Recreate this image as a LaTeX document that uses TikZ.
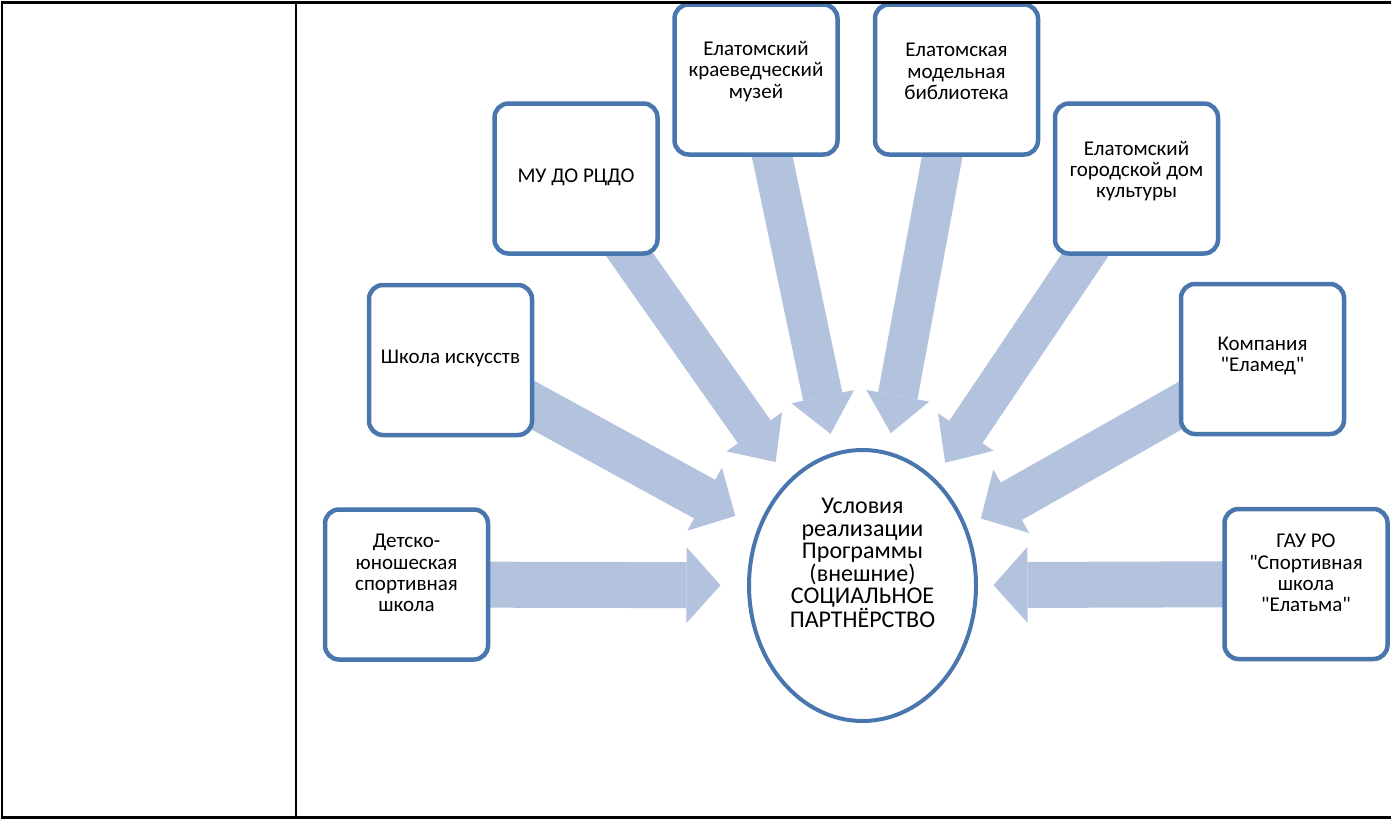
\documentclass[tikz,border=0pt]{standalone}
\usepackage{fontspec}
\setmainfont{Carlito}[Ligatures=TeXOff]
\usetikzlibrary{shapes.geometric,calc,arrows.meta,backgrounds}
\definecolor{boxblue}{RGB}{74,118,174}
\definecolor{arrowblue}{RGB}{179,194,221}
\tikzset{
  partner/.style={draw=boxblue,line width=4.5pt,fill=white,rounded corners=14pt,
    minimum width=163pt,minimum height=150pt,inner sep=0pt},
  lbl/.style={align=center,inner sep=0pt,font=\fontsize{21}{21.3}\selectfont},
  flow/.style n args={3}{arrowblue,line width=#1,
    -{Triangle[length=#3,width=#2,line width=0pt]}}
}
\begin{document}
\begin{tikzpicture}[x=1pt,y=-1pt]
\useasboundingbox (0,0) rectangle (1391,820);
% partners round the centre
\node[partner] (dush) at (406.5,584.5) {};
\node[partner] (shkola) at (450.5,360) {};
\node[partner] (mudo) at (576,178.5) {};
\node[partner] (muzey) at (756,79.5) {};
\node[partner] (bibl) at (956.5,79.5) {};
\node[partner] (dk) at (1136.5,178.5) {};
\node[partner] (elamed) at (1262.5,359) {};
\node[partner] (gau) at (1306,584) {};
\node[ellipse,draw=boxblue,line width=4pt,fill=white,inner sep=0pt,
  minimum width=227pt,minimum height=271pt] (c) at (862.5,585.5) {};
% texts
\node[lbl] (dushtxt) at ([yshift=11.5pt]dush.center) {Детско-\\юношеская\\спортивная\\школа};
\node[lbl] (shkolatxt) at ([yshift=2pt]shkola.center) {Школа искусств};
\node[lbl] (mudotxt) at ([yshift=1.5pt]mudo.center) {МУ ДО РЦДО};
\node[lbl] (muzeytxt) at ([yshift=8pt]muzey.center) {Елатомский\\краеведческий\\музей};
\node[lbl] (bibltxt) at ([yshift=8pt]bibl.center) {Елатомская\\модельная\\библиотека};
\node[lbl] (dktxt) at ([yshift=7.5pt]dk.center) {Елатомский\\городской дом\\культуры};
\node[lbl] (elamedtxt) at ([yshift=3pt]elamed.center) {Компания\\"Еламед"};
\node[lbl] (gautxt) at ([yshift=11pt]gau.center) {ГАУ РО\\"Спортивная\\школа\\"Елатьма"};
\node[lbl,font=\fontsize{24}{22.6}\selectfont] (ctxt) at ([yshift=22.5pt]c.center)
  {Условия\\реализации\\Программы\\(внешние)\\СОЦИАЛЬНОЕ\\ПАРТНЁРСТВО};
% arrows towards the centre: node / tip distance / shaft / head width / head length
\begin{scope}[on background layer]
  \foreach \n/\d/\w/\hw/\hl in {dush/142/46/76/34,shkola/145/44/72/35,mudo/151/40/68/37,
      muzey/155/40/64/38,bibl/155/40/64/38,dk/148/40/67/37,elamed/136/43/73/35,gau/131/46/76/34}
    \draw[flow={\w pt}{\hw pt}{\hl pt}] (\n.center) -- ($(c)!\d pt!(\n.center)$);
\end{scope}
% table rules
\draw[line width=3pt] (0.5,2.5) -- (1391,2.5);
\draw[line width=3pt] (0.5,817.5) -- (1391,817.5);
\draw[line width=2pt] (2,1) -- (2,819);
\draw[line width=1.6pt] (296,1) -- (296,819);
\end{tikzpicture}
\end{document}
